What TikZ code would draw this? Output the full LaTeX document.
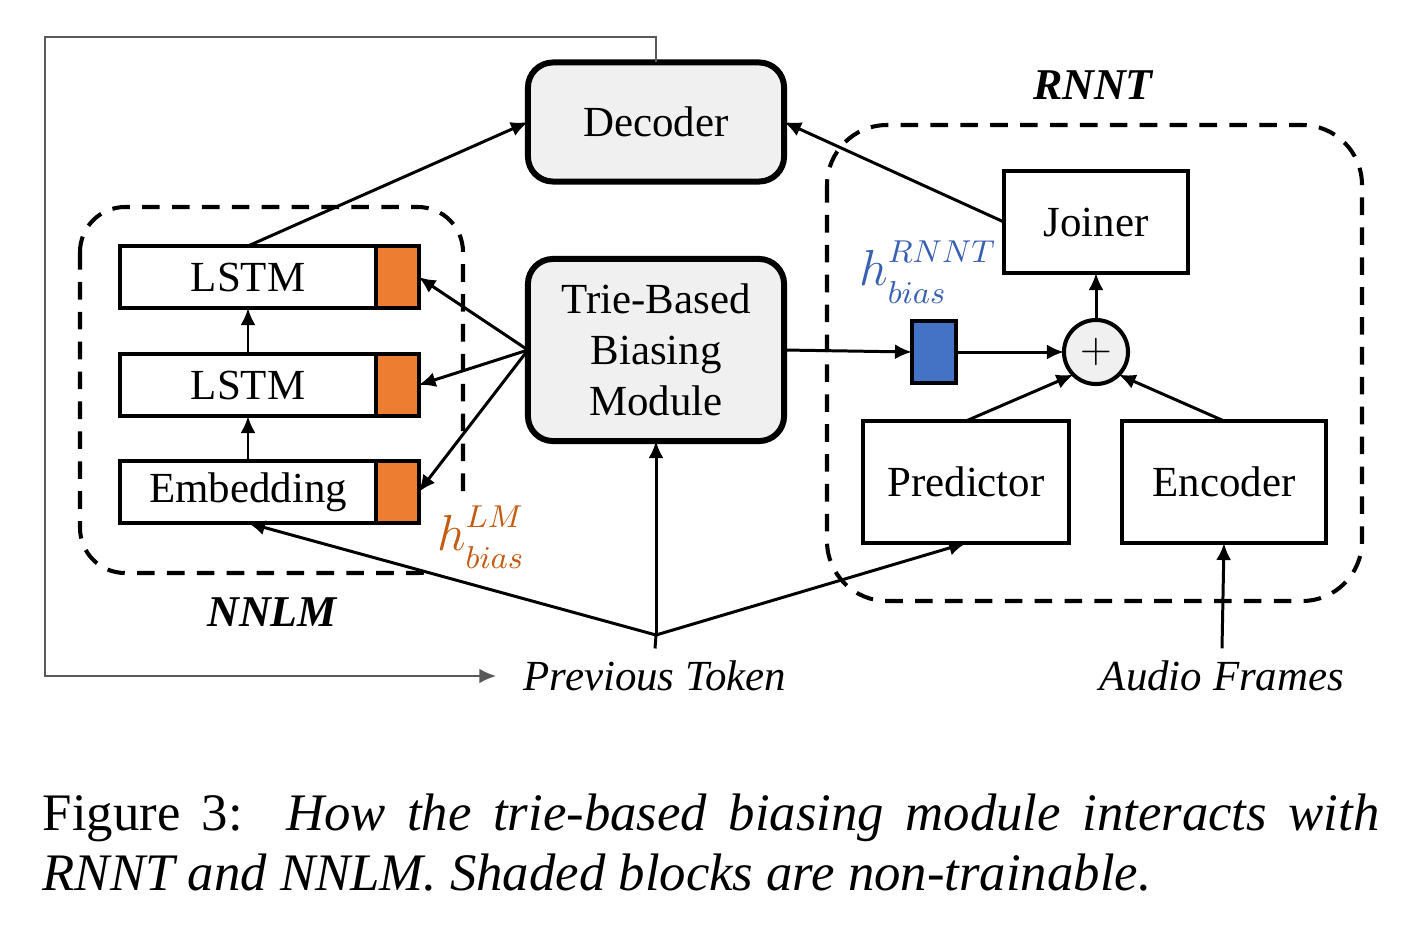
\documentclass[tikz,border=0pt]{standalone}
\usepackage{fontspec}
\setmainfont{Liberation Serif}
\usetikzlibrary{arrows.meta,positioning}
\definecolor{shadegray}{RGB}{240,240,240}
\definecolor{lmorange}{RGB}{237,125,49}
\definecolor{rnntblue}{RGB}{68,114,196}
\definecolor{lmlabel}{RGB}{197,90,17}
\definecolor{rnntlabel}{RGB}{56,96,178}
\definecolor{loopgray}{RGB}{89,89,89}
\newcommand{\biaslabel}[1]{$h^{\raisebox{1.5pt}{$\scriptstyle #1$}}_{\raisebox{-1.5pt}{$\scriptstyle bias$}}$}
\tikzset{
  diagram-font/.style={font=\fontsize{12.2}{14.5}\selectfont},
  block/.style={
    diagram-font,
    draw=black,
    line width=1.15pt,
    fill=white,
    inner sep=0pt,
    outer sep=0pt
  },
  block-fixed/.style={
    block,
    line width=1.7pt,
    fill=shadegray,
    rounded corners=0.25cm,
    align=center,
    minimum width=2.56cm
  },
  block-layer/.style={block, minimum width=2.55cm, minimum height=0.62cm},
  block-bias/.style={block, fill=lmorange, minimum width=0.43cm, minimum height=0.62cm},
  group-box/.style={draw=black, line width=1.15pt, dash pattern=on 5pt off 3.5pt},
  group-label/.style={diagram-font, font=\fontsize{12.5}{14}\selectfont\bfseries\itshape},
  io-label/.style={diagram-font, font=\fontsize{12.2}{14}\selectfont\itshape},
  bias-label/.style={inner sep=1pt, font=\fontsize{13.5}{16}\selectfont},
  arrow/.style={-{Latex[length=0.17cm,width=0.15cm]}, line width=0.85pt},
  feedback/.style={arrow, draw=loopgray, line width=0.8pt}
}

\begin{document}
\begin{tikzpicture}[x=0.01cm, y=-0.01cm]
  \useasboundingbox (0,0) rectangle (1406,927);

  % 1. Non-trainable blocks
  \node[block-fixed, minimum height=1.19cm] (dec) at (656,122) {Decoder};
  \node[block-fixed, minimum height=1.82cm] (trie) at (656,350) {Trie-Based\\Biasing\\Module};

  % 2. NNLM
  \draw[group-box, rounded corners=0.45cm] (80,207) rectangle (463,573);
  \node[block-layer] (lstmA) at (248,277) {LSTM};
  \node[block-bias, right=0pt of lstmA] (lstmAb) {};
  \node[block-layer] (lstmB) at (248,385) {LSTM};
  \node[block-bias, right=0pt of lstmB] (lstmBb) {};
  \node[block-layer] (emb) at (248,492) {Embedding};
  \node[block-bias, right=0pt of emb] (embb) {};
  \node[group-label] (nnlm) at (272,612) {NNLM};
  \node[bias-label, fill=white, text=lmlabel] (hlm) at (481,537) {\biaslabel{LM}};

  % 3. RNNT
  \draw[group-box, rounded corners=0.6cm] (827,125) rectangle (1362,601);
  \node[group-label] (rnnt) at (1093,85) {RNNT};
  \node[block, minimum width=1.84cm, minimum height=1.02cm] (joiner) at (1096,222) {Joiner};
  \node[block, fill=rnntblue, minimum width=0.44cm, minimum height=0.62cm] (rbias) at (934,352) {};
  \node[bias-label, text=rnntlabel] (hrnnt) at (928,272) {\biaslabel{RNNT}};
  \node[block, circle, fill=shadegray, minimum size=0.64cm] (plus) at (1096,352) {$+$};
  \node[block, minimum width=2.06cm, minimum height=1.22cm] (pred) at (966,482) {Predictor};
  \node[block, minimum width=2.04cm, minimum height=1.22cm] (enc) at (1224,482) {Encoder};

  % 4. Inputs
  \node[io-label] (prev) at (655,676) {Previous Token};
  \node[io-label] (audio) at (1222,676) {Audio Frames};
  \coordinate (split) at (656,635);

  % 5. Connections
  \draw[arrow] (emb.north) -- (lstmB.south);
  \draw[arrow] (lstmB.north) -- (lstmA.south);
  \draw[arrow] (lstmA.north) -- (dec.west);
  \draw[arrow] (trie.west) -- (lstmAb.east);
  \draw[arrow] (trie.west) -- (lstmBb.east);
  \draw[arrow] (trie.west) -- (embb.east);
  \draw[arrow] (trie.east) -- (rbias.west);
  \draw[arrow] (rbias.east) -- (plus.west);
  \draw[arrow] (plus.north) -- (joiner.south);
  \draw[arrow] (pred.north) -- (plus.south west);
  \draw[arrow] (enc.north) -- (plus.south east);
  \draw[arrow] (joiner.west) -- (dec.east);
  \draw[line width=0.85pt] (prev.north) -- (split);
  \draw[arrow] (split) -- (trie.south);
  \draw[arrow] (split) -- (emb.south);
  \draw[arrow] (split) -- (pred.south);
  \draw[arrow] (audio.north) -- (enc.south);

  % feedback from the decoder to the next token
  \draw[feedback, shorten >=0.15cm] (dec.north) |- (45,37) |- (prev.west);

  % 6. Caption
  \node[anchor=base west, inner sep=0pt, font=\fontsize{15}{17}\selectfont] (cap1) at (42,830)
    {\makebox[13.36cm][s]{Figure 3:\ \ \textit{How the trie-based biasing module interacts with}}};
  \node[anchor=base west, inner sep=0pt, font=\fontsize{15}{17}\selectfont\itshape] (cap2) at (42,890)
    {RNNT and NNLM. Shaded blocks are non-trainable.};
\end{tikzpicture}
\end{document}
